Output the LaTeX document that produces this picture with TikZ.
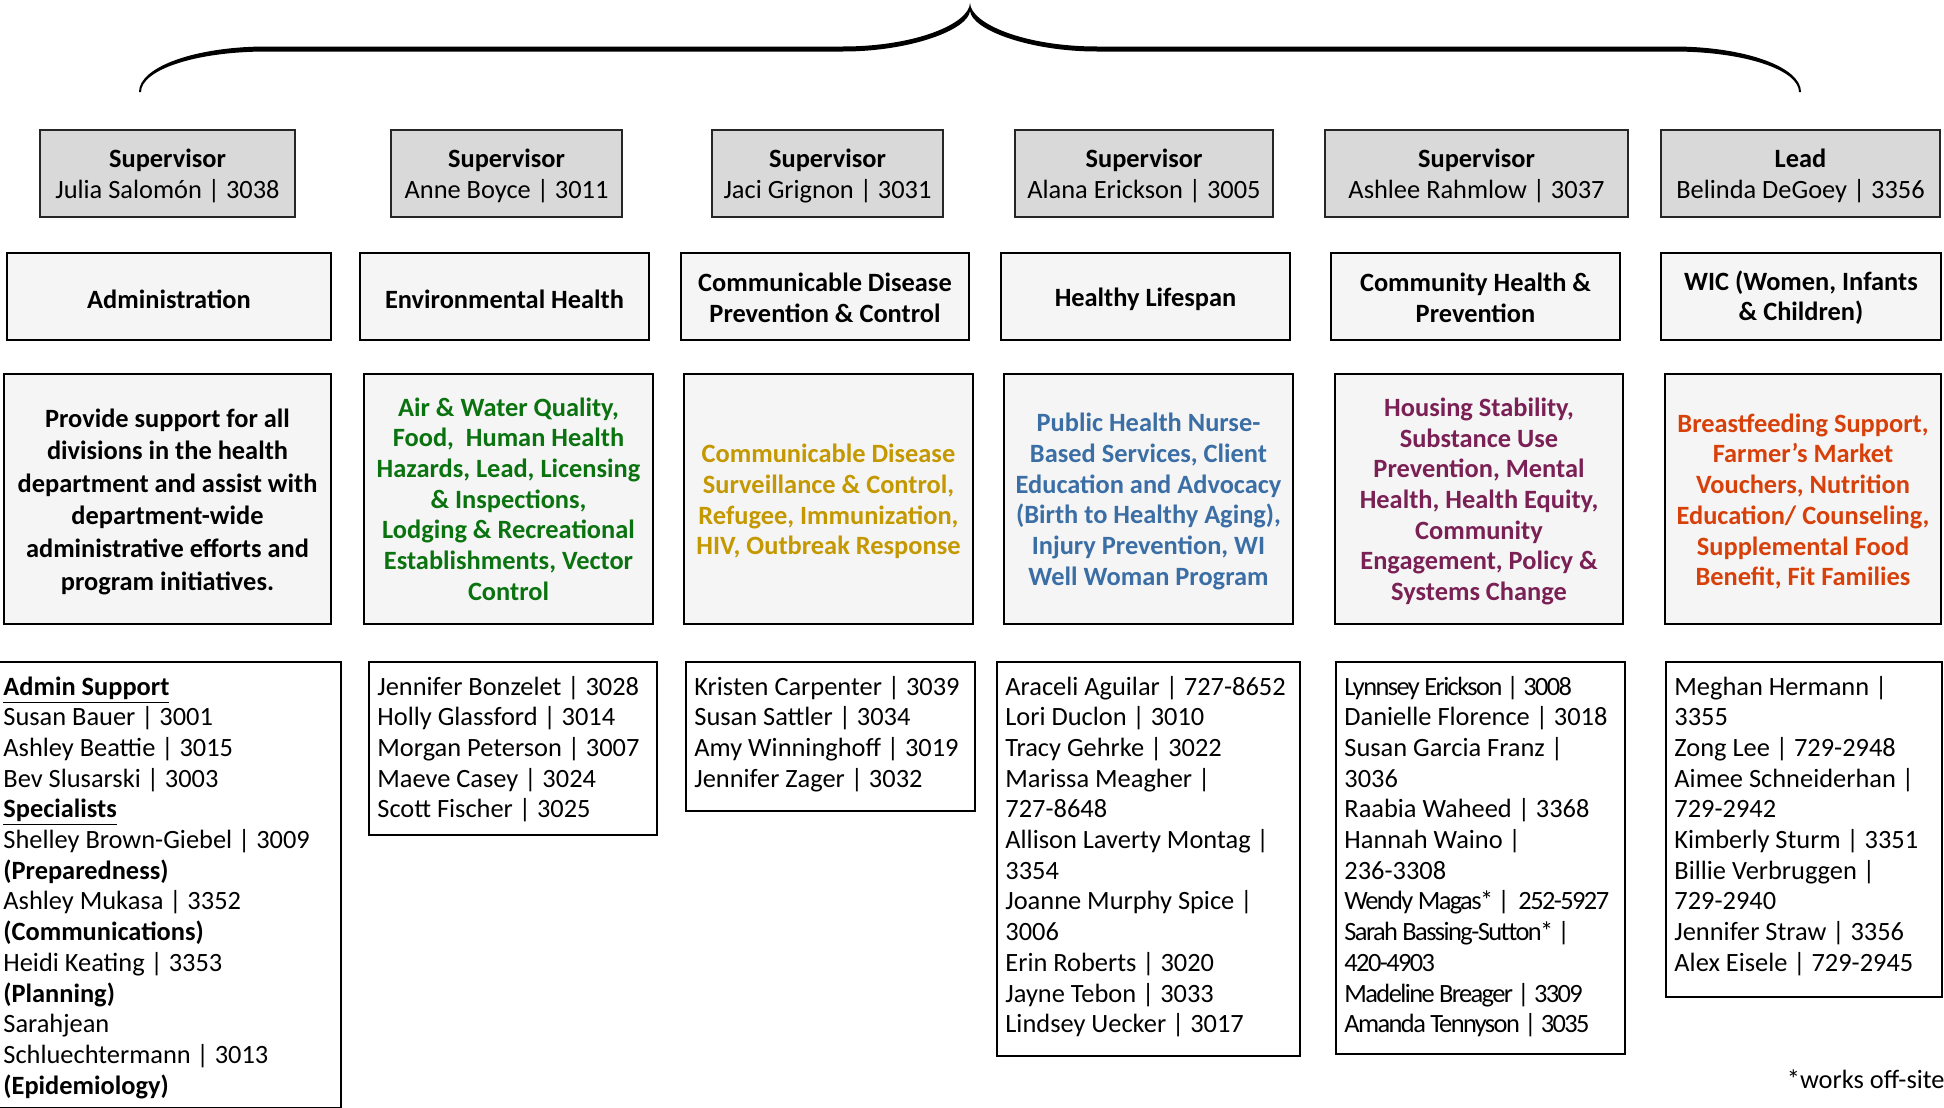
\documentclass[tikz,border=0pt]{standalone}
\usepackage{fontspec}
\setmainfont{Carlito}
\newfontfamily\cond[LetterSpace=-6]{Carlito}
\usetikzlibrary{calc}
\definecolor{supfill}{HTML}{D9D9D9}
\definecolor{boxfill}{HTML}{F5F5F5}
\definecolor{cgreen}{RGB}{10,115,15}
\definecolor{cgold}{RGB}{196,152,0}
\definecolor{cblue}{RGB}{58,110,165}
\definecolor{cpurple}{RGB}{122,32,85}
\definecolor{cred}{RGB}{216,64,10}
\begin{document}
\begin{tikzpicture}[x=0.5pt,y=-0.5pt,
  font=\fontsize{13.2}{15.35}\selectfont,
  supbox/.style={draw=black!85, fill=supfill, line width=1pt, inner sep=0, minimum height=43.5pt},
  divbox/.style={draw=black, fill=boxfill, line width=1.2pt, inner sep=0, minimum height=43.5pt},
  descbox/.style={divbox, minimum height=125pt},
  ctext/.style={inner sep=0, align=center, yshift=-1.25pt},
  btext/.style={ctext, font=\fontsize{13.2}{15.35}\selectfont\bfseries},
  staffbox/.style={draw=black, fill=white, line width=1.1pt, inner sep=0, anchor=north west},
  stafftext/.style={inner sep=0, anchor=base west}]

\useasboundingbox (0,0) rectangle (1944,1108);

% brace
\fill[black] (139,92) .. controls (139,67) and (195,46.5) .. (267,46.5) -- (843,46.5)
  .. controls (915,46.5) and (969,24) .. (970,3)
  .. controls (971,24) and (1025,46.5) .. (1097,46.5) -- (1673,46.5)
  .. controls (1745,46.5) and (1801,67) .. (1801,92)
  -- (1799,92) .. controls (1799,70) and (1745,51.5) .. (1673,51.5) -- (1097,51.5)
  .. controls (1030,51.5) and (972,30) .. (970,11)
  .. controls (968,30) and (910,51.5) .. (843,51.5) -- (267,51.5)
  .. controls (195,51.5) and (141,70) .. (141,92) -- cycle;

% supervisors
\node[supbox, minimum width=127.5pt] (sup1) at (167.5,173.5) {};
\node[supbox, minimum width=115.5pt] (sup2) at (506.5,173.5) {};
\node[supbox, minimum width=115.5pt] (sup3) at (827.5,173.5) {};
\node[supbox, minimum width=129pt] (sup4) at (1144,173.5) {};
\node[supbox, minimum width=151.5pt] (sup5) at (1476.5,173.5) {};
\node[supbox, minimum width=139.5pt] (sup6) at (1800.5,173.5) {};
\node[ctext] (sup1t) at (sup1.center) {\textbf{Supervisor}\\Julia Salomón | 3038};
\node[ctext] (sup2t) at (sup2.center) {\textbf{Supervisor}\\Anne Boyce | 3011};
\node[ctext] (sup3t) at (sup3.center) {\textbf{Supervisor}\\Jaci Grignon | 3031};
\node[ctext] (sup4t) at (sup4.center) {\textbf{Supervisor}\\Alana Erickson | 3005};
\node[ctext] (sup5t) at (sup5.center) {\textbf{Supervisor}\\Ashlee Rahmlow | 3037};
\node[ctext] (sup6t) at (sup6.center) {\textbf{Lead}\\Belinda DeGoey | 3356};

% divisions
\node[divbox, minimum width=162pt] (div1) at (169,296.5) {};
\node[divbox, minimum width=144.5pt] (div2) at (504.5,296.5) {};
\node[divbox, minimum width=144pt] (div3) at (825,296.5) {};
\node[divbox, minimum width=144.5pt] (div4) at (1145.5,296.5) {};
\node[divbox, minimum width=144.5pt] (div5) at (1475.5,296.5) {};
\node[divbox, minimum width=140pt] (div6) at (1801,296.5) {};
\node[btext] (div1t) at (div1.center) {Administration};
\node[btext] (div2t) at (div2.center) {Environmental Health};
\node[btext, yshift=0.6pt] (div3t) at (div3.center) {Communicable Disease\\Prevention \& Control};
\node[btext] (div4t) at (div4.center) {Healthy Lifespan};
\node[btext, yshift=0.6pt] (div5t) at (div5.center) {Community Health \&\\Prevention};
\node[btext, yshift=0.6pt] (div6t) at (div6.center) {WIC (Women, Infants\\\& Children)};

% descriptions
\node[descbox, minimum width=163.5pt] (desc1) at (167.5,499) {};
\node[descbox, minimum width=144.5pt] (desc2) at (508.5,499) {};
\node[descbox, minimum width=144.5pt] (desc3) at (828.5,499) {};
\node[descbox, minimum width=144.5pt] (desc4) at (1148.5,499) {};
\node[descbox, minimum width=144pt] (desc5) at (1479,499) {};
\node[descbox, minimum width=138pt] (desc6) at (1803,499) {};
\node[btext, font=\fontsize{13.2}{16.3}\selectfont\bfseries] (desc1t) at (desc1.center) {Provide support for all\\divisions in the health\\department and assist with\\department-wide\\administrative efforts and\\program initiatives.};
\node[btext, text=cgreen, yshift=1.25pt] (desc2t) at (desc2.center) {Air \& Water Quality,\\Food,\ \ Human Health\\Hazards, Lead, Licensing\\\& Inspections,\\Lodging \& Recreational\\Establishments, Vector\\Control};
\node[btext, text=cgold] (desc3t) at (desc3.center) {Communicable Disease\\Surveillance \& Control,\\Refugee, Immunization,\\HIV, Outbreak Response};
\node[btext, text=cblue] (desc4t) at (desc4.center) {Public Health Nurse-\\Based Services, Client\\Education and Advocacy\\(Birth to Healthy Aging),\\Injury Prevention, WI\\Well Woman Program};
\node[btext, text=cpurple] (desc5t) at (desc5.center) {Housing Stability,\\Substance Use\\Prevention, Mental\\Health, Health Equity,\\Community\\Engagement, Policy \&\\Systems Change};
\node[btext, text=cred] (desc6t) at (desc6.center) {Breastfeeding Support,\\Farmer’s Market\\Vouchers, Nutrition\\Education/ Counseling,\\Supplemental Food\\Benefit, Fit Families};

% staff boxes
\node[staffbox, minimum width=171pt, minimum height=223pt] (st1) at (-2,661) {};
\node[staffbox, minimum width=144pt, minimum height=86.5pt] (st2) at (368,661) {};
\node[staffbox, minimum width=144.5pt, minimum height=74.5pt] (st3) at (685,661) {};
\node[staffbox, minimum width=151.5pt, minimum height=197pt] (st4) at (996,661) {};
\node[staffbox, minimum width=144.5pt, minimum height=196pt] (st5) at (1335,661) {};
\node[staffbox, minimum width=138pt, minimum height=167.5pt] (st6) at (1665,661) {};

\node[stafftext] (st1t) at ($(st1.north west)+(5,34)$) {\parbox[t]{200pt}{\raggedright
\textbf{\underline{Admin Support}}\\
Susan Bauer | 3001\\
Ashley Beattie | 3015\\
Bev Slusarski | 3003\\
\textbf{\underline{Specialists}}\\
Shelley Brown-Giebel | 3009\\
\textbf{(Preparedness)}\\
Ashley Mukasa | 3352\\
\textbf{(Communications)}\\
Heidi Keating | 3353\\
\textbf{(Planning)}\\
Sarahjean\\
Schluechtermann | 3013\\
\textbf{(Epidemiology)}}};

\node[stafftext] (st2t) at ($(st2.north west)+(9,34)$) {\parbox[t]{200pt}{\raggedright
Jennifer Bonzelet | 3028\\
Holly Glassford | 3014\\
Morgan Peterson | 3007\\
Maeve Casey | 3024\\
Scott Fischer | 3025}};

\node[stafftext] (st3t) at ($(st3.north west)+(9,34)$) {\parbox[t]{200pt}{\raggedright
Kristen Carpenter | 3039\\
Susan Sattler | 3034\\
Amy Winninghoff | 3019\\
Jennifer Zager | 3032}};

\node[stafftext] (st4t) at ($(st4.north west)+(9,34)$) {\parbox[t]{200pt}{\raggedright
Araceli Aguilar | 727-8652\\
Lori Duclon | 3010\\
Tracy Gehrke | 3022\\
Marissa Meagher |\\
727-8648\\
Allison Laverty Montag |\\
3354\\
Joanne Murphy Spice |\\
3006\\
Erin Roberts | 3020\\
Jayne Tebon | 3033\\
Lindsey Uecker | 3017}};

\node[stafftext] (st5t) at ($(st5.north west)+(9,34)$) {\parbox[t]{200pt}{\raggedright
{\cond Lynnsey Erickson | 3008}\\
Danielle Florence | 3018\\
Susan Garcia Franz |\\
3036\\
Raabia Waheed | 3368\\
Hannah Waino |\\
236-3308\\
{\cond Wendy Magas* |\ \ 252-5927}\\
{\cond Sarah Bassing-Sutton* |}\\
{\cond 420-4903}\\
{\cond Madeline Breager | 3309}\\
{\cond Amanda Tennyson | 3035}}};

\node[stafftext] (st6t) at ($(st6.north west)+(9,34)$) {\parbox[t]{200pt}{\raggedright
Meghan Hermann |\\
3355\\
Zong Lee | 729-2948\\
Aimee Schneiderhan |\\
729-2942\\
Kimberly Sturm | 3351\\
Billie Verbruggen |\\
729-2940\\
Jennifer Straw | 3356\\
Alex Eisele | 729-2945}};

\node[inner sep=0, anchor=base east] (note) at (1945,1088) {*works off-site};
\end{tikzpicture}
\end{document}
